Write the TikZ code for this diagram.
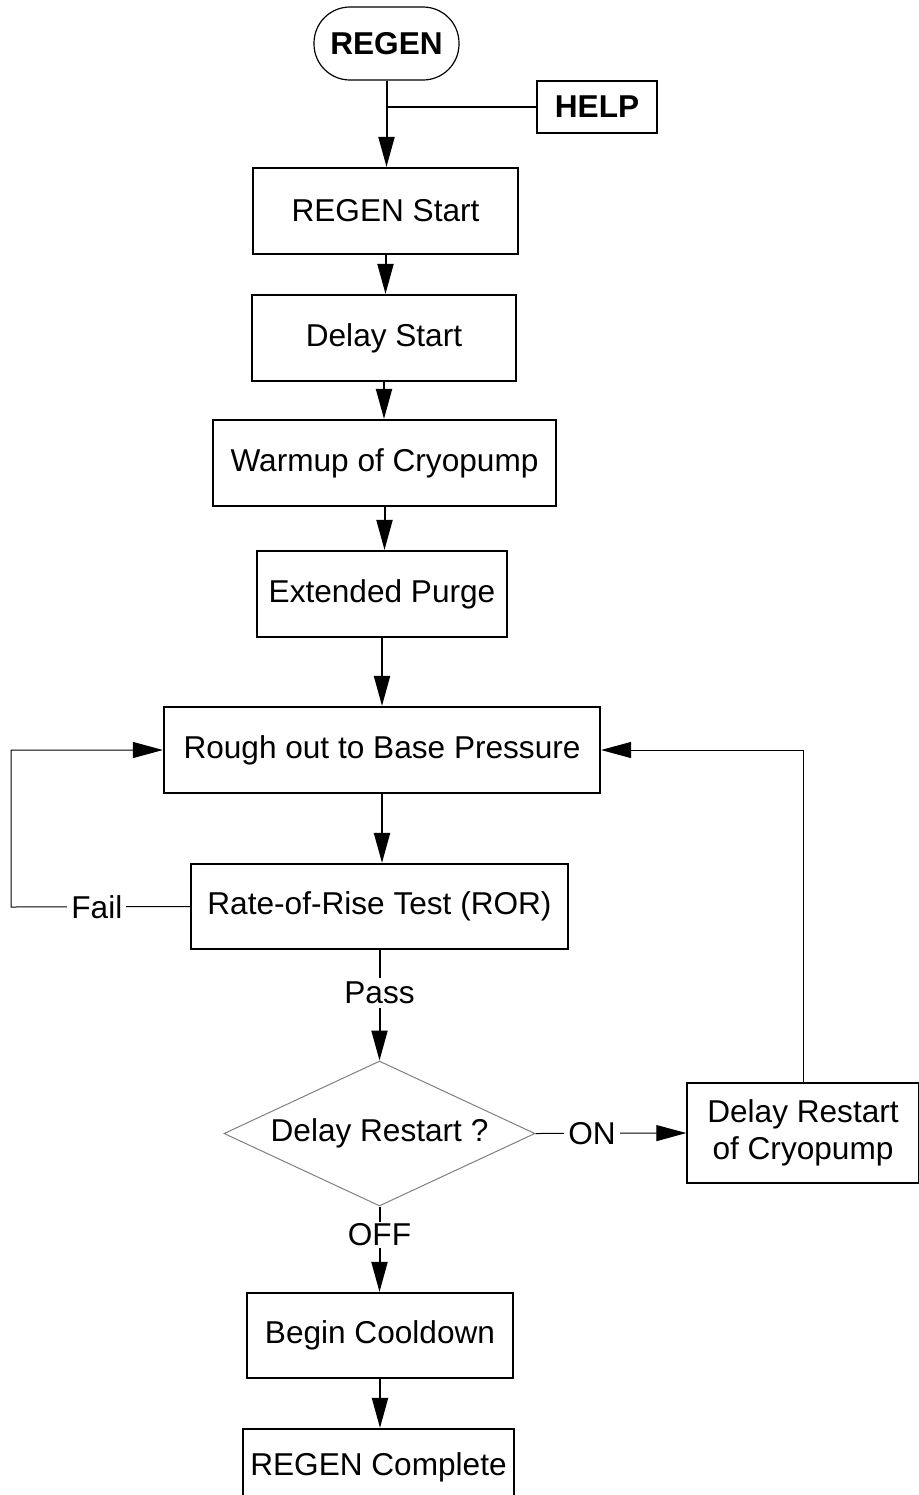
\documentclass[tikz,border=0pt]{standalone}
\usepackage{fontspec}
\setmainfont{Liberation Sans}
\usetikzlibrary{arrows.meta,shapes.geometric}

\begin{document}
\begin{tikzpicture}[x=0.5pt, y=-0.5pt,
    txt/.style={font=\fontsize{15.8}{18.5}\selectfont},
    stepbox/.style={txt, draw, line width=1.1pt, inner sep=0pt, align=center, minimum height=43pt},
    flow/.style={line width=1pt, -{Triangle[length=15pt,width=8pt]}},
    thinflow/.style={line width=0.5pt, -{Triangle[length=15pt,width=8pt]}},
    lbl/.style={txt, fill=white, inner sep=2pt}]

    \useasboundingbox (0,0) rectangle (919,1495);

    % Start and help
    \node[stepbox, font=\fontsize{15.8}{18.5}\selectfont\bfseries, line width=0.6pt, rounded corners=18pt,
          minimum width=72.5pt, minimum height=36.5pt] (regen) at (386.5,43.5) {REGEN};
    \node[stepbox, font=\fontsize{15.8}{18.5}\selectfont\bfseries, minimum width=60pt, minimum height=26pt] (help) at (597,107) {HELP};
    \coordinate (join) at (386.5,107);

    % Main sequence
    \node[stepbox, minimum width=132.5pt] (start) at (385.5,211) {REGEN Start};
    \node[stepbox, minimum width=132pt] (dstart) at (384,338) {Delay Start};
    \node[stepbox, minimum width=171.5pt] (warm) at (384.5,463) {Warmup of Cryopump};
    \node[stepbox, minimum width=125pt] (purge) at (382,594) {Extended Purge};
    \node[stepbox, minimum width=218pt] (rough) at (382,750) {Rough out to Base Pressure};
    \node[stepbox, minimum width=188.5pt, minimum height=42.5pt] (ror) at (379.5,906.5) {Rate-of-Rise Test (ROR)};

    % Decision
    \node[txt, draw=gray, line width=0.5pt, shape=diamond, aspect=2.14, inner sep=0pt,
          minimum width=155.5pt, minimum height=72.5pt] (dec) at (379.5,1133.5) {Delay Restart ?};
    \node[stepbox, line width=0.7pt, minimum width=116pt, minimum height=50pt] (drest) at (803,1133) {Delay Restart\\of Cryopump};

    % End
    \node[stepbox, minimum width=133pt, minimum height=42.5pt] (cool) at (380,1335.5) {Begin Cooldown};
    \node[stepbox, minimum width=135.5pt, minimum height=38pt] (done) at (378.5,1467) {REGEN Complete};

    % Connectors
    \draw[flow] (regen.south) -- (regen.south |- start.north);
    \draw[line width=1pt] (help.west) -- (join);
    \draw[flow] (start.south) -- (start.south |- dstart.north);
    \draw[flow] (dstart.south) -- (dstart.south |- warm.north);
    \draw[flow] (warm.south) -- (warm.south |- purge.north);
    \draw[flow] (purge.south) -- (purge.south |- rough.north);
    \draw[flow] (rough.south) -- (rough.south |- ror.north);

    % Fail loop
    \coordinate (failcorner) at (11,907);
    \draw[thinflow, line join=miter] (ror.west) -- node[lbl, pos=0.52] {Fail} (failcorner) |- (rough.west);

    % Pass / ON / OFF
    \draw[flow] (ror.south) -- node[lbl, pos=0.39] {Pass} (dec.north);
    \draw[thinflow] (dec.east) -- node[lbl, pos=0.375] {ON} (drest.west);
    \draw[thinflow] (drest.north) |- (rough.east);
    \draw[flow] (dec.south) -- node[lbl, pos=0.33, inner sep=1pt] {OFF} (dec.south |- cool.north);
    \draw[flow] (cool.south) -- (cool.south |- done.north);

\end{tikzpicture}
\end{document}
